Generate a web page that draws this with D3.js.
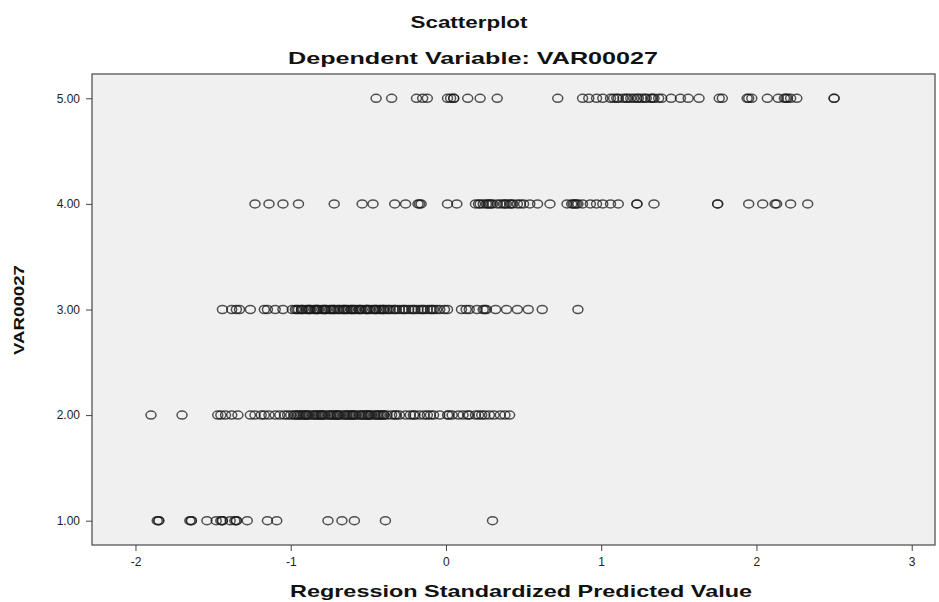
<!DOCTYPE html>
<html lang="en">
<head>
<meta charset="utf-8" />
<script src="https://d3js.org/d3.v7.min.js"></script>
<style>
  html, body { margin: 0; padding: 0; background: #fff; }
  svg { display: block; font-family: "Liberation Sans", Arial, sans-serif; }
</style>
</head>
<body>
<svg id="canvas" width="939" height="602"></svg>
<script>
// predicted values (x) for each observed level of VAR00027
var level1 = [-1.86, -1.85, -1.85, -1.65, -1.64, -1.64, -1.54, -1.48, -1.45, -1.44, -1.44, -1.39,
  -1.36, -1.35, -1.35, -1.28, -1.15, -1.09, -0.76, -0.67, -0.59, -0.39, 0.30];

var level2 = [-1.90, -1.70, -1.47, -1.45, -1.42, -1.38, -1.34, -1.26, -1.23, -1.19, -1.17, -1.14,
  -1.10, -1.07, -1.04, -1.02, -1.00, -0.98, -0.96, -0.94, -0.92, -0.90, -0.88, -0.86, -0.84,
  -0.82, -0.80, -0.78, -0.76, -0.74, -0.72, -0.70, -0.68, -0.66, -0.64, -0.62, -0.60, -0.58,
  -0.56, -0.54, -0.52, -0.50, -0.48, -0.46, -0.44, -0.42, -0.40, -0.38, -0.95, -0.90, -0.85,
  -0.80, -0.75, -0.70, -0.65, -0.60, -0.55, -0.50, -0.45, -0.40, -0.97, -0.93, -0.89, -0.83,
  -0.79, -0.73, -0.69, -0.63, -0.59, -0.53, -0.49, -0.43, -0.91, -0.81, -0.71, -0.61, -0.51,
  -0.41, -0.35, -0.32, -0.30, -0.26, -0.23, -0.20, -0.17, -0.14, -0.10, -0.08, -0.04, 0.01,
  0.04, 0.08, 0.11, 0.15, 0.19, 0.21, 0.25, 0.28, 0.31, 0.35, 0.38, 0.41, -0.33, -0.21, -0.12,
  0.02, 0.14, 0.23];

var level3 = [-1.44, -1.38, -1.35, -1.33, -1.26, -1.17, -1.15, -1.10, -1.05, -0.99, -0.97, -0.95,
  -0.93, -0.92, -0.90, -0.88, -0.87, -0.85, -0.83, -0.82, -0.80, -0.78, -0.77, -0.75, -0.73,
  -0.72, -0.70, -0.68, -0.66, -0.65, -0.63, -0.61, -0.59, -0.58, -0.56, -0.54, -0.52, -0.51,
  -0.49, -0.47, -0.45, -0.43, -0.42, -0.40, -0.38, -0.36, -0.34, -0.32, -0.30, -0.28, -0.26,
  -0.24, -0.22, -0.20, -0.18, -0.16, -0.14, -0.12, -0.10, -0.08, -0.06, -0.93, -0.88, -0.83,
  -0.78, -0.72, -0.66, -0.61, -0.56, -0.51, -0.45, -0.40, -0.96, -0.89, -0.84, -0.79, -0.74,
  -0.69, -0.64, -0.60, -0.55, -0.50, -0.46, -0.41, -0.37, -0.33, -0.27, -0.21, -0.15, -0.09,
  -0.04, -0.01, 0.01, 0.10, 0.13, 0.15, 0.20, 0.24, 0.25, 0.26, 0.32, 0.39, 0.46, 0.53, 0.62,
  0.85];

var level4 = [-1.23, -1.14, -1.05, -0.95, -0.72, -0.54, -0.47, -0.33, -0.26, -0.18, -0.17, -0.16,
  0.01, 0.07, 0.19, 0.21, 0.24, 0.26, 0.28, 0.30, 0.33, 0.37, 0.39, 0.41, 0.43, 0.46, 0.48, 0.50,
  0.54, 0.59, 0.67, 0.78, 0.81, 0.83, 0.85, 0.88, 0.93, 0.97, 1.01, 1.06, 1.11, 1.23, 1.23, 1.34,
  1.75, 1.75, 1.95, 2.04, 2.12, 2.13, 2.22, 2.33, 0.22, 0.27, 0.29, 0.35, 0.38, 0.42, 0.82, 0.84];

var level5 = [-0.45, -0.35, -0.19, -0.15, -0.12, 0.01, 0.03, 0.05, 0.05, 0.14, 0.22, 0.33, 0.72,
  0.88, 0.92, 0.97, 1.01, 1.06, 1.08, 1.11, 1.14, 1.16, 1.19, 1.21, 1.24, 1.26, 1.29, 1.32, 1.34,
  1.37, 1.39, 1.45, 1.51, 1.56, 1.63, 1.76, 1.78, 1.94, 1.95, 1.97, 2.07, 2.14, 2.18, 2.20, 2.22,
  2.26, 2.50, 2.50, 1.10, 1.17, 1.23, 1.28, 1.33, 2.19];

var levels = [1, 2, 3, 4, 5];
var xTicks = [-2, -1, 0, 1, 2, 3];
var yTicks = [1, 2, 3, 4, 5];

var titleText = "Scatterplot";
var subtitleText = "Dependent Variable: VAR00027";
var xTitle = "Regression Standardized Predicted Value";
var yTitle = "VAR00027";

var svg = d3.select("#canvas");
var L = 92, R = 935, T = 74, B = 545;

var x = d3.scaleLinear().domain([-2.28, 3.15]).range([L, R]);
var y = d3.scaleLinear().domain([0.77, 5.23]).range([B, T]);

svg.append("rect")
  .attr("x", L).attr("y", T)
  .attr("width", R - L).attr("height", B - T)
  .attr("fill", "#f0f0f0")
  .attr("stroke", "#555").attr("stroke-width", 1.3);

// axes
var xAxis = svg.append("g")
  .attr("transform", "translate(0," + B + ")")
  .call(d3.axisBottom(x).tickValues(xTicks).tickSize(6).tickSizeOuter(0).tickFormat(function(d) { return String(d); }));
xAxis.select(".domain").remove();
xAxis.selectAll("line").attr("stroke", "#444");
xAxis.selectAll("text").attr("font-size", 12).attr("fill", "#222")
  .attr("font-family", "'Liberation Sans', Arial, sans-serif").attr("dy", "1.0em");

var yAxis = svg.append("g")
  .attr("transform", "translate(" + L + ",0)")
  .call(d3.axisLeft(y).tickValues(yTicks).tickSize(6).tickSizeOuter(0).tickFormat(d3.format(".2f")));
yAxis.select(".domain").remove();
yAxis.selectAll("line").attr("stroke", "#444");
yAxis.selectAll("text").attr("font-size", 12).attr("fill", "#222")
  .attr("font-family", "'Liberation Sans', Arial, sans-serif").attr("x", -12);

// points
var series = [level1, level2, level3, level4, level5];
var pts = [];
series.forEach(function(vals, i) {
  vals.forEach(function(v) { pts.push({ x: v, y: levels[i] }); });
});

svg.append("g").selectAll("ellipse")
  .data(pts)
  .enter().append("ellipse")
  .attr("cx", function(d) { return x(d.x); })
  .attr("cy", function(d) { return y(d.y); })
  .attr("rx", 5).attr("ry", 4)
  .attr("fill", "none")
  .attr("stroke", "#1a1a1a")
  .attr("stroke-opacity", 0.75)
  .attr("stroke-width", 1.5);

// titles
function addText(txt, px, py, size, len) {
  return svg.append("text")
    .attr("x", px).attr("y", py)
    .attr("text-anchor", "middle")
    .attr("font-size", size)
    .attr("font-weight", "bold")
    .attr("fill", "#111")
    .attr("textLength", len)
    .attr("lengthAdjust", "spacingAndGlyphs")
    .text(txt);
}
addText(titleText, 469, 28, 17, 117);
addText(subtitleText, 473, 64, 17, 370);
addText(xTitle, 521, 597, 17, 462);

svg.append("text")
  .attr("transform", "translate(24,310) rotate(-90)")
  .attr("text-anchor", "middle")
  .attr("font-size", 15)
  .attr("font-weight", "bold")
  .attr("fill", "#111")
  .attr("textLength", 90)
  .attr("lengthAdjust", "spacingAndGlyphs")
  .text(yTitle);
</script>
</body>
</html>
